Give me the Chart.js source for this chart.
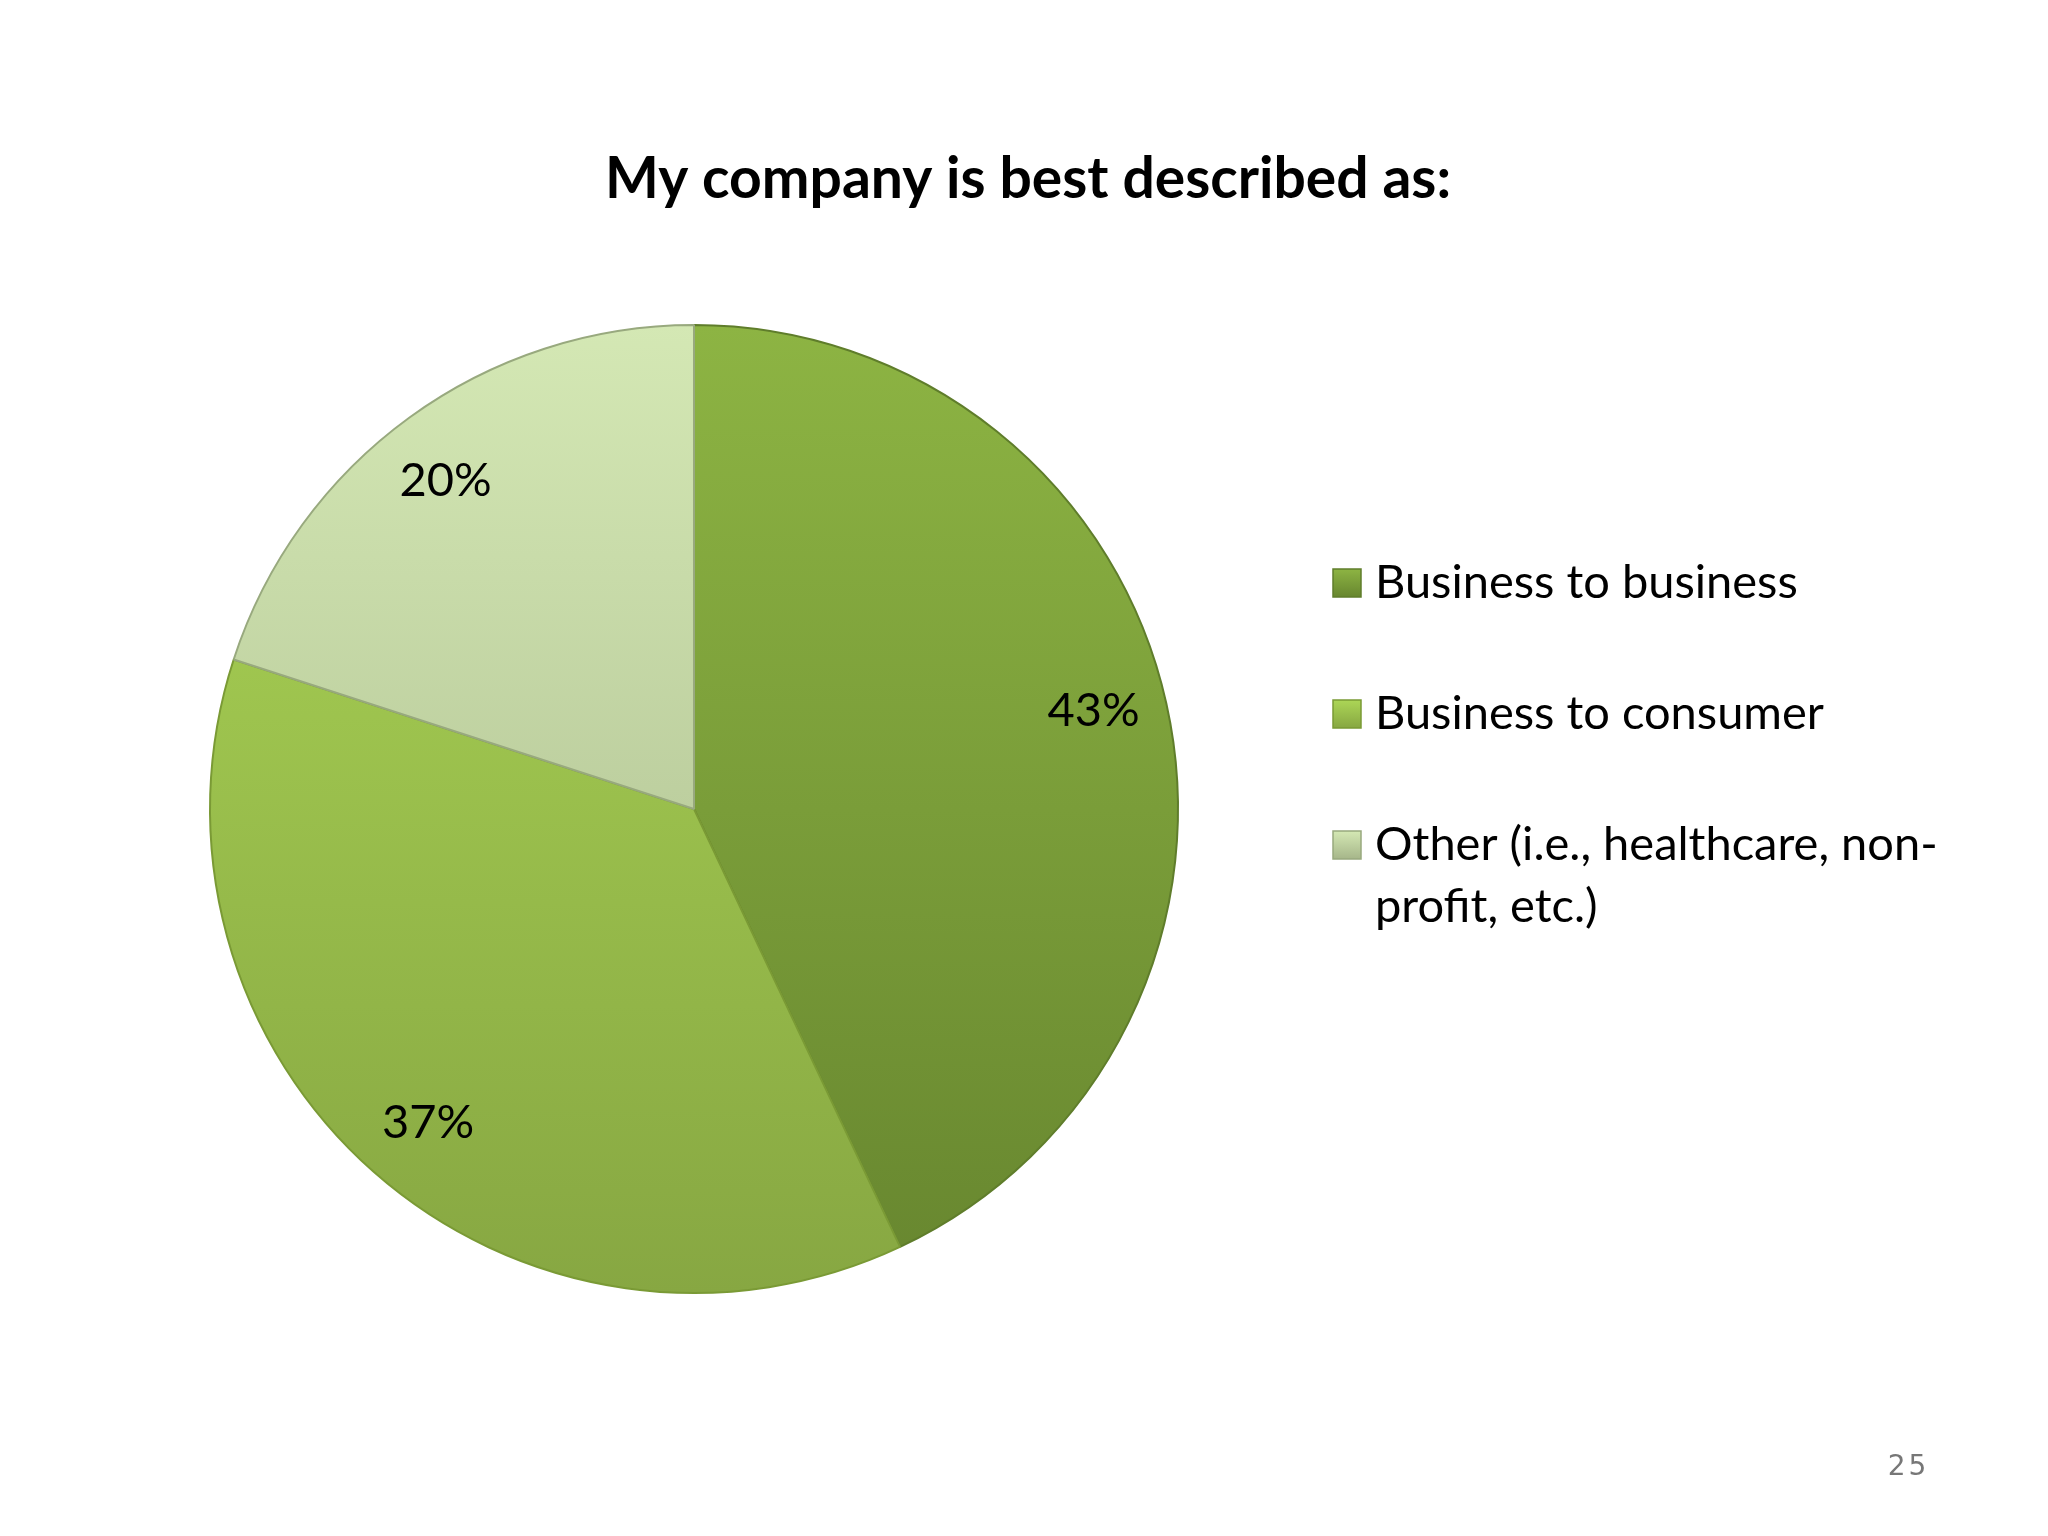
<!DOCTYPE html>
<html>
<head>
<meta charset="utf-8">
<script src="https://cdn.jsdelivr.net/npm/chart.js@4.4.1/dist/chart.umd.min.js"></script>
<style>
  html, body { margin: 0; padding: 0; background: #fff; }
</style>
</head>
<body>
<canvas id="pie" width="2048" height="1536"></canvas>
<script>
// Data
const categories = ['Business to business', 'Business to consumer', 'Other (i.e., healthcare, non-profit, etc.)'];
const shares = [43, 37, 20];
const chartTitle = 'My company is best described as:';
const slideNumber = '25';

// Colours: gradient top / bottom and outline for each slice
const topColors = ['#8db443', '#acd656', '#d4e8b4'];
const bottomColors = ['#67862f', '#87a742', '#a6b68a'];
const edgeColors = ['#5f7d2b', '#7a9a35', '#98a97e'];

const FONT = 'Lato, "Open Sans", sans-serif';

function sliceFill(c) {
    const area = c.chart.chartArea;
    const i = c.dataIndex;
    if (!area) return topColors[i];
    const g = c.chart.ctx.createLinearGradient(0, area.top, 0, area.bottom);
    g.addColorStop(0, topColors[i]);
    g.addColorStop(1, bottomColors[i]);
    return g;
}

// Title + slide number (title centred on the whole slide, not the plot area)
const slideText = {
    id: 'slideText',
    afterDraw(chart) {
        const ctx = chart.ctx;
        ctx.save();
        ctx.fillStyle = '#000';
        ctx.textAlign = 'center';
        ctx.textBaseline = 'middle';
        ctx.font = 'bold 57px ' + FONT;
        ctx.fillText(chartTitle, 1028, 180);
        ctx.fillStyle = '#777';
        ctx.font = '28px "DejaVu Sans", sans-serif';
        ctx.fillText(slideNumber.split('').join(String.fromCharCode(8202)), 1907, 1468);
        ctx.restore();
    }
};

// Percent labels inside each slice
const sliceLabels = {
    id: 'sliceLabels',
    afterDatasetsDraw(chart) {
        const ctx = chart.ctx;
        const meta = chart.getDatasetMeta(0);
        ctx.save();
        ctx.fillStyle = '#000';
        ctx.textAlign = 'center';
        ctx.textBaseline = 'middle';
        ctx.font = '47px ' + FONT;
        meta.data.forEach((arc, i) => {
            const p = arc.getProps(['x', 'y', 'startAngle', 'endAngle', 'outerRadius'], true);
            const mid = (p.startAngle + p.endAngle) / 2 - 0.02;
            const r = p.outerRadius * 0.85;
            ctx.fillText(shares[i] + '%', p.x + Math.cos(mid) * r, p.y + Math.sin(mid) * r);
        });
        ctx.restore();
    }
};

// Legend on the right, with wrapping for the long label
const sideLegend = {
    id: 'sideLegend',
    afterDraw(chart) {
        const ctx = chart.ctx;
        const boxX = 1333, textX = 1375, maxW = 610;
        const rowY = [583, 714, 845];
        const lineH = 62, box = 28;
        ctx.save();
        ctx.font = '47px ' + FONT;
        ctx.textBaseline = 'middle';
        ctx.textAlign = 'left';
        categories.forEach((label, i) => {
            const y = rowY[i];
            const g = ctx.createLinearGradient(0, y - box / 2, 0, y + box / 2);
            g.addColorStop(0, topColors[i]);
            g.addColorStop(1, bottomColors[i]);
            ctx.fillStyle = g;
            ctx.fillRect(boxX, y - box / 2, box, box);
            ctx.strokeStyle = edgeColors[i];
            ctx.lineWidth = 1.5;
            ctx.strokeRect(boxX, y - box / 2, box, box);

            // word wrap, breaking after spaces or hyphens
            const parts = label.match(/[^\s-]+-?\s*|\s+/g);
            let lines = [], cur = '';
            parts.forEach(pt => {
                const test = cur + pt;
                if (ctx.measureText(test.trimEnd()).width > maxW && cur) {
                    lines.push(cur.trimEnd());
                    cur = pt;
                } else {
                    cur = test;
                }
            });
            lines.push(cur.trimEnd());
            ctx.fillStyle = '#000';
            lines.forEach((ln, k) => ctx.fillText(ln, textX, y + k * lineH));
        });
        ctx.restore();
    }
};

new Chart(document.getElementById('pie').getContext('2d'), {
    type: 'pie',
    data: {
        labels: categories,
        datasets: [{
            data: shares,
            backgroundColor: sliceFill,
            borderColor: edgeColors,
            borderWidth: 2,
            hoverOffset: 0
        }]
    },
    options: {
        responsive: false,
        animation: false,
        layout: { padding: { left: 209, right: 869, top: 324, bottom: 242 } },
        plugins: {
            legend: { display: false },
            title: { display: false },
            tooltip: { enabled: false }
        }
    },
    plugins: [sliceLabels, sideLegend, slideText]
});
</script>
</body>
</html>
